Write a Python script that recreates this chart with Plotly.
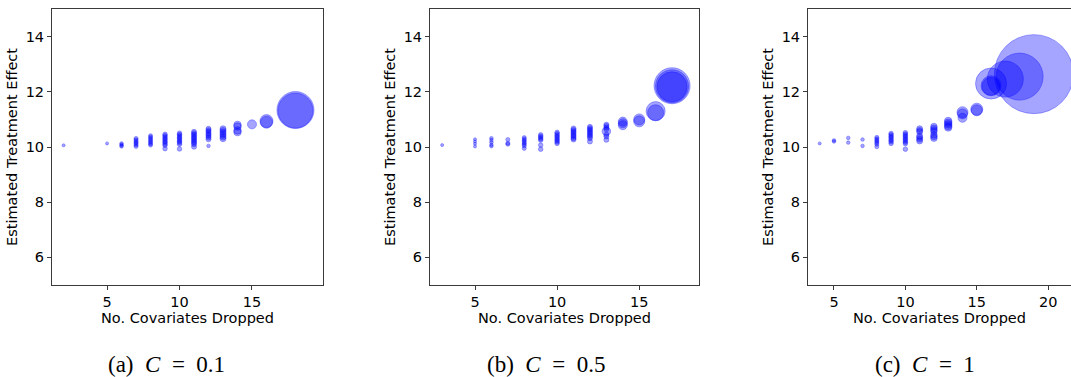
import plotly.graph_objects as go

# ---------------- data ----------------
# Panel (a) C = 0.1 : (covariates dropped, estimate list, bubble size)
a_x = [2, 5, 6, 7, 8, 9, 10, 11, 12, 13, 14, 15, 16, 18]
a_y = [
    [10.06],
    [10.13],
    [10.13, 10.09, 10.05, 10.02],
    [10.31, 10.26, 10.21, 10.16, 10.12, 10.07, 10.02],
    [10.41, 10.36, 10.31, 10.26, 10.21, 10.16, 10.11, 10.07],
    [10.46, 10.41, 10.36, 10.31, 10.26, 10.21, 10.16, 10.11, 10.06, 9.94],
    [10.50, 10.45, 10.40, 10.35, 10.30, 10.25, 10.20, 10.15, 10.10, 9.93],
    [10.55, 10.50, 10.45, 10.40, 10.35, 10.30, 10.25, 10.20, 10.15, 10.10, 10.01],
    [10.66, 10.61, 10.56, 10.50, 10.45, 10.40, 10.34, 10.28, 10.04],
    [10.66, 10.60, 10.54, 10.48, 10.42, 10.36, 10.30],
    [10.80, 10.74, 10.60, 10.54],
    [10.82],
    [10.94, 10.90],
    [11.34, 11.32],
]
a_s = [
    [3], [3], [3.5] * 4, [4] * 7, [4] * 8, [4.5] * 10, [4.5] * 10, [5] * 11,
    [5] * 8 + [3.5], [6] * 7, [7.5] * 4, [9], [13, 12], [37, 35],
]

# Panel (b) C = 0.5
b_x = [3, 5, 6, 7, 8, 9, 10, 11, 12, 13, 14, 15, 16, 17]
b_y = [
    [10.07],
    [10.28, 10.20, 10.12, 10.02],
    [10.32, 10.25, 10.17, 10.08, 10.03],
    [10.27, 10.14, 10.10],
    [10.34, 10.29, 10.24, 10.19, 10.14, 10.09, 10.04, 9.95],
    [10.44, 10.39, 10.34, 10.29, 10.25, 10.07, 9.92],
    [10.53, 10.48, 10.43, 10.38, 10.33, 10.28, 10.23, 10.18, 10.13],
    [10.67, 10.62, 10.57, 10.52, 10.47, 10.42, 10.37, 10.32, 10.27],
    [10.73, 10.68, 10.63, 10.58, 10.53, 10.48, 10.43, 10.38, 10.32, 10.20],
    [10.81, 10.76, 10.70, 10.64, 10.57, 10.45, 10.38, 10.26],
    [10.92, 10.86, 10.79],
    [11.00, 10.93],
    [11.30, 11.24],
    [12.22, 12.20, 12.18],
]
b_s = [
    [3], [3] * 4, [3.5] * 5, [4] * 3, [4] * 8, [4.5] * 7, [4.5] * 9, [5] * 9,
    [5] * 10, [5, 5, 5, 5, 8.5, 5, 5, 5], [9] * 3, [11, 11], [19, 16],
    [36, 33, 30],
]

# Panel (c) C = 1
c_x = [4, 5, 6, 7, 8, 9, 10, 11, 12, 13, 14, 15, 16, 17, 18, 19]
c_y = [
    [10.13],
    [10.24, 10.20],
    [10.33, 10.16],
    [10.27, 10.04],
    [10.35, 10.30, 10.25, 10.20, 10.15, 10.10, 10.01],
    [10.49, 10.44, 10.39, 10.34, 10.29, 10.24, 10.19, 10.13],
    [10.52, 10.47, 10.42, 10.37, 10.32, 10.27, 10.22, 10.17, 10.12, 9.92],
    [10.66, 10.60, 10.55, 10.40, 10.34, 10.28, 10.22],
    [10.74, 10.68, 10.62, 10.56, 10.44, 10.38, 10.32],
    [10.94, 10.88, 10.82, 10.76, 10.71],
    [11.26, 11.20, 11.06],
    [11.37, 11.33],
    [12.30, 12.22, 12.20],
    [12.46],
    [12.55],
    [12.64],
]
c_s = [
    [3], [3.5] * 2, [3.5] * 2, [3.5] * 2, [4] * 7, [4.5] * 8, [4.5] * 10, [6] * 7,
    [6.5] * 7, [7.5] * 5, [11, 10, 9], [12, 11], [31, 20, 18], [36], [47], [79],
]

y_ticks = [6, 8, 10, 12, 14]
NB = "\u00a0"
captions = [
    "(a)" + NB * 2 + "<i>C</i>" + NB * 2 + "=" + NB * 2 + "0.1",
    "(b)" + NB * 2 + "<i>C</i>" + NB * 2 + "=" + NB * 2 + "0.5",
    "(c)" + NB * 2 + "<i>C</i>" + NB * 2 + "=" + NB * 2 + "1",
]

# ---------------- figure ----------------
W, H = 1071, 377
fig = go.Figure()

panels = [
    (a_x, a_y, a_s, [1.2, 19.9], [5, 10, 15], (52, 323), True),
    (b_x, b_y, b_s, [2.26, 18.64], [5, 10, 15], (430, 699), True),
    (c_x, c_y, c_s, [3.18, 21.6], [5, 10, 15, 20], (808, 1071), False),
]
cap_x = [166, 546, 925]

axis_col = "#3a3a3a"
font_main = dict(family="DejaVu Sans", size=14.5, color="#000000")

for i, (xs, ys, ss, xr, xt, (px0, px1), mirror_y) in enumerate(panels):
    n = "" if i == 0 else str(i + 1)
    px, py, psz = [], [], []
    for xv, yl, sl in zip(xs, ys, ss):
        for yv, sv in zip(yl, sl):
            px.append(xv)
            py.append(yv)
            psz.append(sv)
    fig.add_trace(go.Scatter(
        x=px, y=py, mode="markers",
        marker=dict(size=psz, color="rgba(0,0,255,0.5)",
                    line=dict(width=1, color="rgba(0,0,255,0.5)")),
        xaxis="x" + n, yaxis="y" + n, showlegend=False, hoverinfo="skip",
    ))
    fig.layout["xaxis" + n] = dict(
        domain=[px0 / W, px1 / W], anchor="y" + n, range=xr,
        tickvals=xt, ticks="outside", ticklen=4, tickcolor=axis_col,
        showline=True, linecolor=axis_col, linewidth=1, mirror=True,
        showgrid=False, zeroline=False, tickfont=font_main,
        title=dict(text="No. Covariates Dropped", font=font_main, standoff=2),
    )
    fig.layout["yaxis" + n] = dict(
        domain=[92 / H, 368 / H], anchor="x" + n, range=[5, 15],
        tickvals=y_ticks, ticks="outside", ticklen=4, tickcolor=axis_col,
        showline=True, linecolor=axis_col, linewidth=1, mirror=mirror_y,
        showgrid=False, zeroline=False, tickfont=font_main,
        title=dict(text="Estimated Treatment Effect", font=font_main, standoff=4),
    )
    fig.add_annotation(
        x=cap_x[i] / W, y=(H - 364) / H, xref="paper", yref="paper",
        text=captions[i], showarrow=False, xanchor="center", yanchor="middle",
        font=dict(family="Liberation Serif", size=23, color="#000000"),
    )

fig.update_layout(
    width=W, height=H, margin=dict(l=0, r=0, t=0, b=0),
    paper_bgcolor="white", plot_bgcolor="white",
)

fig.write_html("out.html")
